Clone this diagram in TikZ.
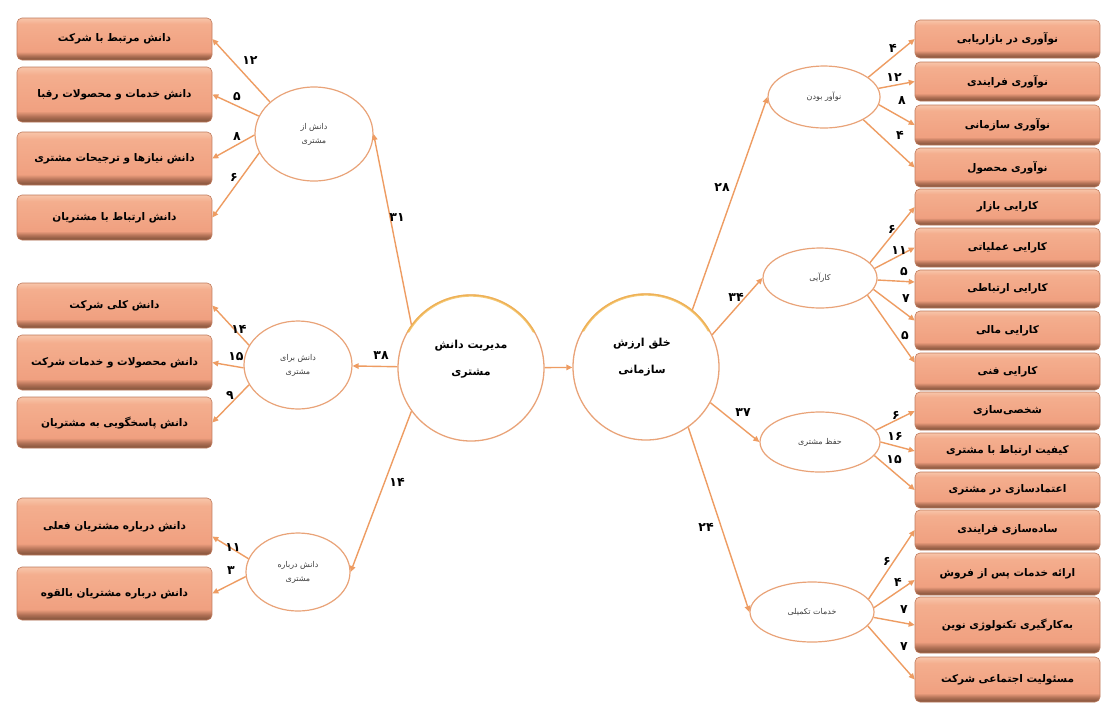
\documentclass[tikz,border=0pt]{standalone}
\usepackage{fontspec}
\usetikzlibrary{arrows.meta,shapes.geometric}
\TeXXeTstate=1
\newfontfamily\arabicfont[Script=Arabic]{DejaVu Sans}
\newcommand\rtl[1]{\beginR#1\endR}
\definecolor{bdark}{HTML}{7E5038}
\definecolor{bmid}{HTML}{B07055}
\definecolor{salmon}{HTML}{F0A080}
\definecolor{salmonb}{HTML}{F4AE8E}
\definecolor{blight}{HTML}{F7C2A6}
\definecolor{bedge}{HTML}{C07C5E}
\definecolor{aorange}{HTML}{EE9C62}
\definecolor{eorange}{HTML}{E9A378}
\definecolor{glow}{HTML}{F1B648}
\pgfdeclareverticalshading{boxsh}{100bp}{color(0bp)=(bdark); color(25bp)=(bdark); color(30bp)=(bmid); color(35bp)=(salmon); color(68bp)=(salmonb); color(74bp)=(blight); color(100bp)=(blight)}
\begin{document}
\begin{tikzpicture}[x=1pt,y=-1pt,
  boxbase/.style={rectangle, rounded corners=5pt, draw=bedge, line width=0.6pt, shade, shading=boxsh, inner sep=0pt, font=\arabicfont\bfseries\fontsize{10.5}{12}\selectfont},
  lbox/.style={boxbase, minimum width=195pt},
  rbox/.style={boxbase, minimum width=185pt},
  ell/.style={ellipse, draw=eorange, line width=1.2pt, fill=white, inner sep=0pt, align=center, text=black!75, font=\arabicfont\fontsize{8}{14}\selectfont},
  big/.style={circle, draw=eorange, line width=1.3pt, fill=white, minimum size=146pt, inner sep=0pt},
  bigtext/.style={inner sep=0pt, align=center, font=\arabicfont\bfseries\fontsize{11}{27}\selectfont},
  arr/.style={draw=aorange, line width=1.4pt, -{Triangle[length=6pt,width=5.5pt]}},
  num/.style={inner sep=0pt, font=\arabicfont\bfseries\fontsize{12.5}{13}\selectfont}]
\fill[white] (0,0) rectangle (1102,705);
\useasboundingbox (0,0) rectangle (1102,705);

% left boxes
\node[lbox, minimum height=42pt] (L1) at (114.5,39) {\rtl{دانش مرتبط با شرکت}};
\node[lbox, minimum height=55pt] (L2) at (114.5,94.5) {\rtl{دانش خدمات و محصولات رقبا}};
\node[lbox, minimum height=53pt] (L3) at (114.5,158.5) {\rtl{دانش نیازها و ترجیحات مشتری}};
\node[lbox, minimum height=45pt] (L4) at (114.5,217.5) {\rtl{دانش ارتباط با مشتریان}};
\node[lbox, minimum height=45pt] (L5) at (114.5,305.5) {\rtl{دانش کلی شرکت}};
\node[lbox, minimum height=55pt] (L6) at (114.5,362.5) {\rtl{دانش محصولات و خدمات شرکت}};
\node[lbox, minimum height=51pt] (L7) at (114.5,422.5) {\rtl{دانش پاسخگویی به مشتریان}};
\node[lbox, minimum height=57pt] (L8) at (114.5,526.5) {\rtl{دانش درباره مشتریان فعلی}};
\node[lbox, minimum height=53pt] (L9) at (114.5,593.5) {\rtl{دانش درباره مشتریان بالقوه}};

% right boxes
\node[rbox, minimum height=38pt] (R1) at (1007.5,39) {\rtl{نوآوری در بازاریابی}};
\node[rbox, minimum height=39pt] (R2) at (1007.5,81.5) {\rtl{نوآوری فرایندی}};
\node[rbox, minimum height=40pt] (R3) at (1007.5,125) {\rtl{نوآوری سازمانی}};
\node[rbox, minimum height=39pt] (R4) at (1007.5,167.5) {\rtl{نوآوری محصول}};
\node[rbox, minimum height=36pt] (R5) at (1007.5,207) {\rtl{کارایی بازار}};
\node[rbox, minimum height=39pt] (R6) at (1007.5,247.5) {\rtl{کارایی عملیاتی}};
\node[rbox, minimum height=38pt] (R7) at (1007.5,289) {\rtl{کارایی ارتباطی}};
\node[rbox, minimum height=39pt] (R8) at (1007.5,330.5) {\rtl{کارایی مالی}};
\node[rbox, minimum height=37pt] (R9) at (1007.5,371.5) {\rtl{کارایی فنی}};
\node[rbox, minimum height=38pt] (R10) at (1007.5,411) {\rtl{شخصی‌سازی}};
\node[rbox, minimum height=36pt] (R11) at (1007.5,451) {\rtl{کیفیت ارتباط با مشتری}};
\node[rbox, minimum height=36pt] (R12) at (1007.5,490) {\rtl{اعتمادسازی در مشتری}};
\node[rbox, minimum height=40pt] (R13) at (1007.5,530) {\rtl{ساده‌سازی فرایندی}};
\node[rbox, minimum height=42pt] (R14) at (1007.5,574) {\rtl{ارائه خدمات پس از فروش}};
\node[rbox, minimum height=56pt] (R15) at (1007.5,625) {\rtl{به‌کارگیری تکنولوژی نوین}};
\node[rbox, minimum height=45pt] (R16) at (1007.5,679.5) {\rtl{مسئولیت اجتماعی شرکت}};

% ellipses
\node[ell, minimum width=118pt, minimum height=94pt] (E1) at (314,134) {\rtl{دانش از}\\\rtl{مشتری}};
\node[ell, minimum width=108pt, minimum height=88pt] (E2) at (298,365) {\rtl{دانش برای}\\\rtl{مشتری}};
\node[ell, minimum width=104pt, minimum height=78pt] (E3) at (298,572) {\rtl{دانش درباره}\\\rtl{مشتری}};
\node[ell, minimum width=112pt, minimum height=62pt] (RE1) at (824,97) {\rtl{نوآور بودن}};
\node[ell, minimum width=114pt, minimum height=60pt] (RE2) at (820,278) {\rtl{کارآیی}};
\node[ell, minimum width=120pt, minimum height=60pt] (RE3) at (820,442) {\rtl{حفظ مشتری}};
\node[ell, minimum width=124pt, minimum height=60pt] (RE4) at (812,612) {\rtl{خدمات تکمیلی}};

% big circles
\node[big] (C1) at (471,368) {};
\node[big] (C2) at (646,367) {};
\draw[glow, line width=2.4pt, line cap=round, opacity=0.75] (C1.center) ++(-30:72.5) arc[start angle=-30, end angle=-150, radius=72.5];
\draw[glow, line width=2.4pt, line cap=round, opacity=0.75] (C2.center) ++(-30:72.5) arc[start angle=-30, end angle=-150, radius=72.5];
\node[bigtext] (C1t) at ([yshift=9pt]C1.center) {\rtl{مدیریت دانش}\\\rtl{مشتری}};
\node[bigtext] (C2t) at ([yshift=10pt,xshift=-4pt]C2.center) {\rtl{خلق ارزش}\\\rtl{سازمانی}};

% connectors left
\draw[arr] (E1.144) -- (L1.east);
\draw[arr] (E1.162) -- (L2.east);
\draw[arr] (E1.181) -- (L3.east);
\draw[arr] (E1.199) -- (L4.east);
\draw[arr] (E2.158) -- (L5.east);
\draw[arr] (E2.183) -- (L6.east);
\draw[arr] (E2.202) -- (L7.east);
\draw[arr] (E3.165) -- ([yshift=-10pt]L8.east);
\draw[arr] (E3.185) -- (L9.east);
\draw[arr] (C1.144) -- (E1.east);
\draw[arr] (C1) -- (E2);
\draw[arr] (C1.216) -- (E3.east);
\draw[arr] (C1) -- (C2);
% connectors right
\draw[arr] (C2.51) -- (RE1.west);
\draw[arr] (C2.26) -- (RE2.west);
\draw[arr] (C2.331) -- (RE3.west);
\draw[arr] (C2.305) -- (RE4.west);
\draw[arr] (RE1.24) -- (R1.west);
\draw[arr] (RE1.9) -- (R2.west);
\draw[arr] (RE1.352) -- (R3.west);
\draw[arr] (RE1.330) -- (R4.west);
\draw[arr] (RE2.17) -- (R5.west);
\draw[arr] (RE2.10) -- (R6.west);
\draw[arr] (RE2.358) -- ([yshift=7pt]R7.west);
\draw[arr] (RE2.348) -- ([yshift=10pt]R8.west);
\draw[arr] (RE2.340) -- ([yshift=9pt]R9.west);
\draw[arr] (RE3.12) -- (R10.west);
\draw[arr] (RE3.0) -- (R11.west);
\draw[arr] (RE3.346) -- (R12.west);
\draw[arr] (RE4.13) -- (R13.west);
\draw[arr] (RE4.4) -- ([yshift=-6pt]R14.west);
\draw[arr] (RE4.355) -- (R15.west);
\draw[arr] (RE4.346) -- (R16.west);

% numbers
\node[num] (n1) at (250,61) {۱۲};
\node[num] (n2) at (237,97) {۵};
\node[num] (n3) at (237,137) {۸};
\node[num] (n4) at (234,177) {۶};
\node[num] (n5) at (239,329) {۱۴};
\node[num] (n6) at (236,357) {۱۵};
\node[num] (n7) at (230,395) {۹};
\node[num] (n8) at (233,548) {۱۱};
\node[num] (n9) at (231,571) {۳};
\node[num] (n10) at (397,218) {۳۱};
\node[num] (n11) at (381,356) {۳۸};
\node[num] (n12) at (397,482) {۱۴};
\node[num] (n13) at (722,188) {۲۸};
\node[num] (n14) at (736,297) {۳۴};
\node[num] (n15) at (743,413) {۳۷};
\node[num] (n16) at (706,527) {۲۴};
\node[num] (n17) at (893,48) {۴};
\node[num] (n18) at (894,78) {۱۲};
\node[num] (n19) at (902,101) {۸};
\node[num] (n20) at (900,135) {۴};
\node[num] (n21) at (892,229) {۶};
\node[num] (n22) at (899,251) {۱۱};
\node[num] (n23) at (904,272) {۵};
\node[num] (n24) at (906,299) {۷};
\node[num] (n25) at (905,336) {۵};
\node[num] (n26) at (896,415) {۶};
\node[num] (n27) at (895,436) {۱۶};
\node[num] (n28) at (894,460) {۱۵};
\node[num] (n29) at (887,561) {۶};
\node[num] (n30) at (898,582) {۴};
\node[num] (n31) at (904,610) {۷};
\node[num] (n32) at (904,647) {۷};
\end{tikzpicture}
\end{document}
